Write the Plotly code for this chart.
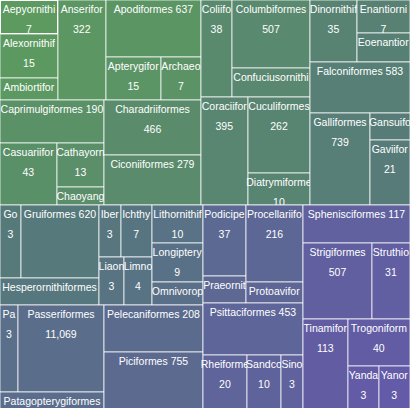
import numpy as np
import plotly.graph_objects as go

# Bird orders (alphabetical) and the number of species printed in each tile
orders = [
    "Aepyornithiformes", "Alexornithiformes", "Ambiortiformes", "Anseriformes",
    "Apodiformes", "Apterygiformes", "Archaeopterygiformes", "Caprimulgiformes",
    "Casuariiformes", "Cathayornithiformes", "Chaoyangiformes", "Charadriiformes",
    "Ciconiiformes", "Coliiformes", "Columbiformes", "Confuciusornithiformes",
    "Coraciiformes", "Cuculiformes", "Diatrymiformes", "Dinornithiformes",
    "Enantiornithiformes", "Eoenantiornithiformes", "Falconiformes", "Galliformes",
    "Gansuiformes", "Gaviiformes", "Gobipterygiformes", "Gruiformes",
    "Hesperornithiformes", "Iberomesornithiformes", "Ichthyornithiformes",
    "Liaoningornithiformes", "Limnofregatiformes", "Lithornithiformes",
    "Longipterygiformes", "Omnivoropterygiformes", "Palaeotidiformes",
    "Passeriformes", "Patagopterygiformes", "Pelecaniformes", "Piciformes",
    "Podicipediformes", "Praeornithiformes", "Procellariiformes", "Protoaviformes",
    "Psittaciformes", "Rheiformes", "Sandcoleiformes", "Sinornithiformes",
    "Sphenisciformes", "Strigiformes", "Struthioniformes", "Tinamiformes",
    "Trogoniformes", "Yandangornithiformes", "Yanornithiformes",
]
species = [
    7, 15, 3, 322, 637, 15, 7, 190, 43, 13, 2, 466, 279, 38, 507, 13, 395, 262,
    10, 35, 7, 5, 583, 739, 3, 21, 3, 620, 20, 3, 7, 3, 4, 10, 9, 3, 3, 11069,
    6, 208, 755, 37, 3, 216, 3, 453, 20, 10, 3, 117, 507, 31, 113, 40, 3, 3,
]
# Relative tile areas
tile_weight = [
    1972, 2552, 1276, 4800, 5415, 2365, 1720,
    4472, 3534, 2068, 846, 5335, 4850,
    3007, 5304, 2262, 5076, 4712, 1984,
    2914, 1749, 1537, 5100, 5520, 1080, 2600,
    1533, 5694, 2673, 1144, 1612, 1200, 1344, 1938, 1989, 1173,
    1566, 7482, 1872, 4653, 5742,
    3053, 1161, 4389, 1197, 5200, 2420, 1870, 1210,
    4066, 5244, 2888, 4095, 2914, 1364, 1364,
]
# Visible part of each name (long names are cut off by their tile)
shown = [
    "Aepyornithi", "Alexornithif", "Ambiortifor", "Anserifor", "Apodiformes",
    "Apterygifor", "Archaeo", "Caprimulgiformes", "Casuariifor", "Cathayorn",
    "Chaoyang", "Charadriiformes", "Ciconiiformes", "Coliifo", "Columbiformes",
    "Confuciusornithi", "Coraciifor", "Cuculiformes", "Diatrymiforme", "Dinornithif",
    "Enantiorni", "Eoenantior", "Falconiformes", "Galliformes", "Gansuifo",
    "Gaviifor", "Go", "Gruiformes", "Hesperornithiformes", "Iber", "Ichthy",
    "Liaon", "Limno", "Lithornithif", "Longiptery", "Omnivorop", "Pa",
    "Passeriformes", "Patagopterygiformes", "Pelecaniformes", "Piciformes",
    "Podicipe", "Praeornit", "Procellariifo", "Protoavifor", "Psittaciformes",
    "Rheiforme", "Sandco", "Sino", "Sphenisciformes", "Strigiformes", "Struthio",
    "Tinamifor", "Trogoniform", "Yanda", "Yanor",
]
one_line = {"Apodiformes", "Caprimulgiformes", "Ciconiiformes", "Falconiformes",
            "Gruiformes", "Pelecaniformes", "Piciformes", "Psittaciformes",
            "Sphenisciformes"}
name_only = {"Ambiortiformes", "Chaoyangiformes", "Confuciusornithiformes",
             "Eoenantiornithiformes", "Gansuiformes", "Hesperornithiformes",
             "Omnivoropterygiformes", "Patagopterygiformes", "Praeornithiformes",
             "Protoaviformes"}

small = "<span style='font-size:10.5px'>{}</span>"
texts = []
for o, s, c in zip(orders, shown, species):
    num = f"{c:,}"
    if o in one_line:
        texts.append(small.format(f"{s} {num}"))
    elif o in name_only:
        texts.append(small.format(s))
    else:
        texts.append(small.format(s) + "<br>" + small.format(num))

n = len(orders)
fig = go.Figure(go.Treemap(
    ids=orders,
    labels=orders,
    parents=[""] * n,
    values=tile_weight,
    customdata=species,
    text=texts,
    texttemplate="%{text}",
    textposition="top center",
    hoverinfo="skip",
    sort=False,
    tiling=dict(packing="binary", pad=0),
    marker=dict(
        colors=list(range(n)),
        colorscale=[[0, "#5c9a60"], [0.5, "#56787c"], [1, "#635aa8"]],
        showscale=False,
        line=dict(color="rgba(255,255,255,0.75)", width=1),
        pad=dict(t=0, l=0, r=0, b=0),
    ),
    pathbar=dict(visible=False),
    textfont=dict(family="Liberation Sans, Arial, sans-serif", size=15.4, color="white"),
))
fig.update_layout(
    width=410, height=410,
    margin=dict(l=0, r=0, t=0, b=0),
    paper_bgcolor="#5a7a80",
    uniformtext=dict(minsize=15.4, mode="show"),
)
fig.write_html(
    "out.html",
    config={"displayModeBar": False},
    post_script="document.body.style.margin='0';document.body.style.overflow='hidden';"
                "document.documentElement.style.overflow='hidden';",
)
